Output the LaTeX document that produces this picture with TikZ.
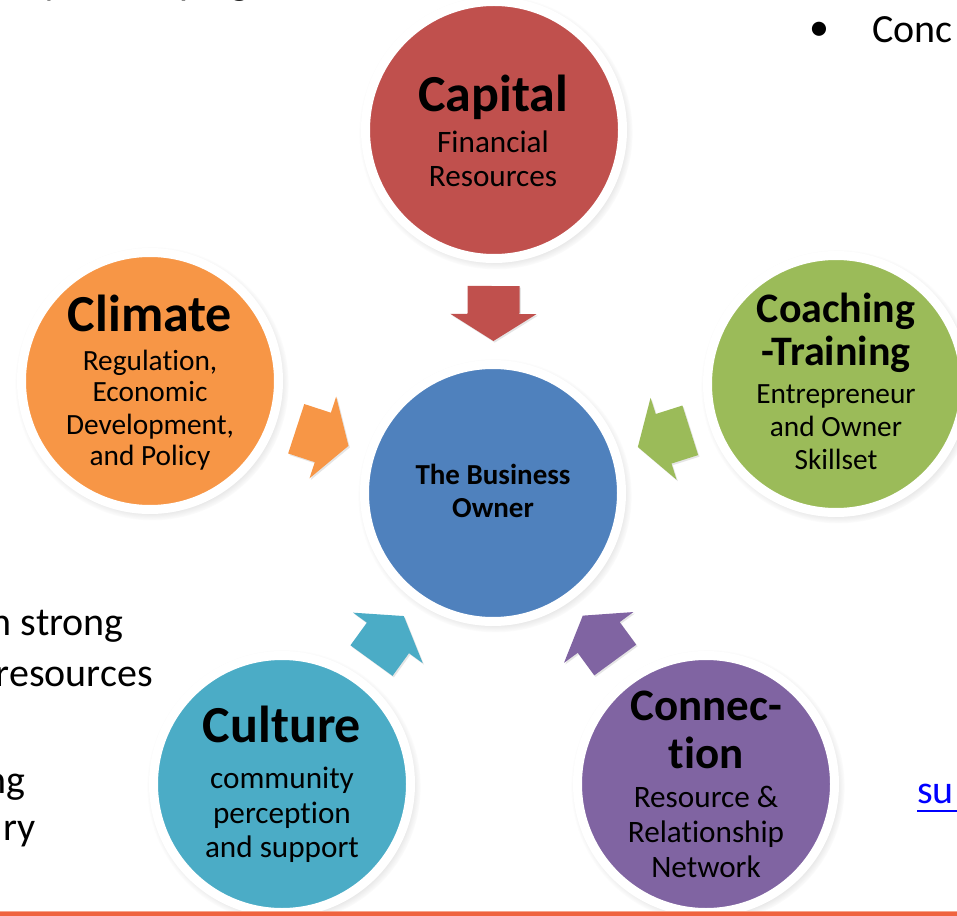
\documentclass[tikz,border=0pt]{standalone}
\usepackage{fontspec}
\setmainfont{Carlito}[Ligatures={NoCommon,NoContextual}, RawFeature={-liga;-clig;-calt;-dlig}]
\usetikzlibrary{calc,shadows,fadings}
\definecolor{capred}{HTML}{C0504D}
\definecolor{ownblue}{HTML}{4F81BD}
\definecolor{climorange}{HTML}{F79646}
\definecolor{coachgreen}{HTML}{9BBB59}
\definecolor{cultteal}{HTML}{4BACC6}
\definecolor{connpurple}{HTML}{8064A2}
\definecolor{linkblue}{HTML}{0000FF}
\definecolor{barred}{HTML}{EF633F}
\definecolor{barlight}{HTML}{F6A48C}
\newcommand{\nolig}{\kern0pt }
% arrow from outer bubble #1 into the owner bubble, colour #2
\newcommand{\inarrow}[2]{%
  \coordinate (#1-tip) at ($(owner.center)!114pt!(#1.center)$);
  \coordinate (#1-hb)  at ($(owner.center)!134.25pt!(#1.center)$);
  \coordinate (#1-te)  at ($(owner.center)!155.25pt!(#1.center)$);
  \fill[#2, arrowshade] (#1-tip)
    -- ($(#1-hb)!32.25pt!90:(#1.center)$)
    -- ($(#1-hb)!19.5pt!90:(#1.center)$)
    -- ($(#1-te)!19.5pt!90:(#1.center)$)
    -- ($(#1-te)!19.5pt!-90:(#1.center)$)
    -- ($(#1-hb)!19.5pt!-90:(#1.center)$)
    -- ($(#1-hb)!32.25pt!-90:(#1.center)$)
    -- cycle;}
\tikzset{
  bubble/.style={circle, minimum size=192.75pt, inner sep=0pt, draw=white,
    line width=6.75pt,
    circular drop shadow={shadow xshift=1.3pt, shadow yshift=-1.8pt,
      shadow scale=1.065, opacity=0.45}},
  arrowshade/.style={drop shadow={shadow xshift=1pt, shadow yshift=-1.2pt,
      opacity=0.2}},
  bigtitle/.style={font=\fontsize{39pt}{39pt}\selectfont\bfseries, anchor=base, inner sep=0pt},
  midtitle/.style={font=\fontsize{33.75pt}{34pt}\selectfont\bfseries, anchor=base, inner sep=0pt},
  smalltitle/.style={font=\fontsize{31.5pt}{32pt}\selectfont\bfseries, anchor=base, inner sep=0pt},
  ownertext/.style={font=\fontsize{21.75pt}{22pt}\selectfont\bfseries, anchor=base, inner sep=0pt},
  subA/.style={font=\fontsize{23.4pt}{24pt}\selectfont, anchor=base, inner sep=0pt},
  subB/.style={font=\fontsize{22pt}{23pt}\selectfont, anchor=base, inner sep=0pt},
  body/.style={font=\fontsize{30pt}{31pt}\selectfont, inner sep=0pt},
}
\begin{document}
\begin{tikzpicture}[x=0.75pt,y=-0.75pt]
\useasboundingbox (0,0) rectangle (957,916);
\clip (0,0) rectangle (957,916);
\fill[white] (0,0) rectangle (957,916);

% side texts (cut off by the slide crop, as in the reference)
\node[body, anchor=base east] (toptext) at (250,-5) {by developing};
\node[body, anchor=base] (bullet) at (819,41) {•};
\node[body, anchor=base west] (conc) at (872,43) {Conc};
\node[body, anchor=base east] (left1) at (124,635) {n strong};
\node[body, anchor=base east] (left2) at (153,686) {resources};
\node[body, anchor=base east] (left3) at (26,793) {ng};
\node[body, anchor=base east] (left4) at (36,840) {ry};
\node[body, anchor=base west, text=linkblue] (sulink) at (917,803) {su};
\draw[linkblue, line width=1.6pt] ($(sulink.base west)+(0,8)$) -- ($(sulink.base east)+(6,8)$);

% bubbles
\node[bubble, fill=capred]     (capital)    at (494,130) {};
\node[bubble, fill=ownblue]    (owner)      at (493,493) {};
\node[bubble, fill=climorange] (climate)    at (150,381) {};
\node[bubble, fill=coachgreen] (coaching)   at (836,384) {};
\node[bubble, fill=cultteal]   (culture)    at (282,784) {};
\node[bubble, fill=connpurple] (connection) at (706,784) {};

% arrows into the owner
\inarrow{capital}{capred}
\inarrow{climate}{climorange}
\inarrow{coaching}{coachgreen}
\inarrow{culture}{cultteal}
\inarrow{connection}{connpurple}

% texts
\node[bigtitle] (cap-t) at (493,112) {Capital};
\node[subA] (cap-a) at (493,153) {Financial};
\node[subA] (cap-b) at (493,187) {Resources};

\node[ownertext] (own-a) at (493,484) {The Business};
\node[ownertext] (own-b) at (493,517) {Owner};

\node[bigtitle] (cli-t) at (150,332) {Climate};
\node[subB] (cli-a) at (150,370) {Regulat\nolig ion,};
\node[subB] (cli-b) at (150,402) {Economic};
\node[subB] (cli-c) at (150,434) {Development,};
\node[subB] (cli-d) at (150,465) {and Policy};

\node[smalltitle] (coa-t) at (836,323) {Coaching};
\node[smalltitle] (coa-u) at (836,365) {-Training};
\node[subB] (coa-a) at (836,403) {Entrepreneur};
\node[subB] (coa-b) at (836,436) {and Owner};
\node[subB] (coa-c) at (836,469) {Skillset};

\node[bigtitle] (cul-t) at (282,742) {Culture};
\node[subA] (cul-a) at (282,788) {community};
\node[subA] (cul-b) at (282,823) {percept\nolig ion};
\node[subA] (cul-c) at (282,857) {and support};

\node[midtitle] (con-t) at (706,720) {Connec-};
\node[midtitle] (con-u) at (706,768) {t\nolig ion};
\node[subA] (con-a) at (706,807) {Resource \&};
\node[subA] (con-b) at (706,842) {Relat\nolig ionship};
\node[subA] (con-c) at (706,877) {Network};

% bottom bar
\fill[barred] (0,911) rectangle (957,917);
\fill[barlight] (0,910.5) rectangle (957,912);
\end{tikzpicture}
\end{document}
